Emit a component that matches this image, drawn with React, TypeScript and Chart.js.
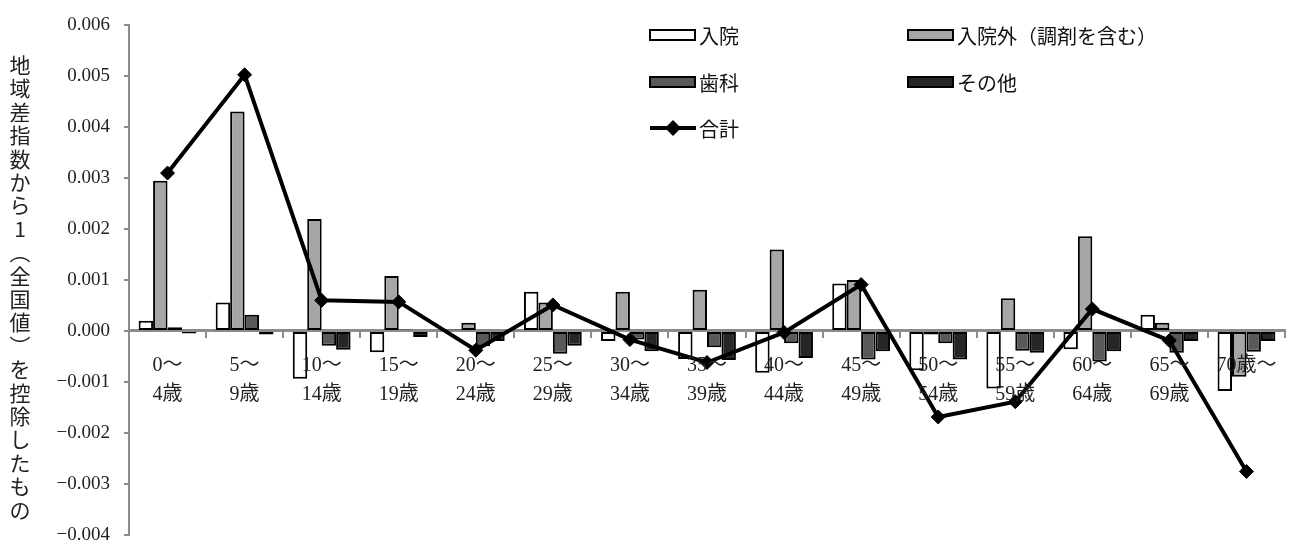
import React, { useEffect, useRef } from 'react';
import { Chart, registerables } from 'chart.js';

Chart.register(...registerables);

// ---- data ----
const ageGroups: (string | string[])[] = [
  ['0～', '4歳'], ['5～', '9歳'], ['10～', '14歳'], ['15～', '19歳'], ['20～', '24歳'],
  ['25～', '29歳'], ['30～', '34歳'], ['35～', '39歳'], ['40～', '44歳'], ['45～', '49歳'],
  ['50～', '54歳'], ['55～', '59歳'], ['60～', '64歳'], ['65～', '69歳'], '70歳～',
];

const inpatient = [0.0002, 0.00056, -0.00094, -0.00042, 0.00003, 0.00077, -0.0002, -0.00055, -0.00082, 0.00093, -0.00077, -0.00113, -0.00036, 0.00032, -0.00118];
const outpatient = [0.00295, 0.00431, 0.0022, 0.00108, 0.00016, 0.00056, 0.00077, 0.00081, 0.0016, 0.001, -0.00007, 0.00064, 0.00186, 0.00016, -0.0009];
const dental = [0.00007, 0.00032, -0.00029, 0.00003, -0.0003, -0.00045, -0.00017, -0.00032, -0.00024, -0.00056, -0.00024, -0.00039, -0.0006, -0.00043, -0.00041];
const other = [-0.00005, -0.00007, -0.00037, -0.00012, -0.0002, -0.00029, -0.0004, -0.00057, -0.00053, -0.0004, -0.00056, -0.00043, -0.0004, -0.0002, -0.0002];
const total = [0.0031, 0.00503, 0.0006, 0.00057, -0.00038, 0.00051, -0.00017, -0.00062, -0.00003, 0.00091, -0.00169, -0.00139, 0.00043, -0.00019, -0.00276];

const seriesNames = ['入院', '入院外（調剤を含む）', '歯科', 'その他', '合計'];
const seriesColors = ['#ffffff', '#a6a6a6', '#595959', '#262626', '#000000'];

const yMin = -0.004;
const yMax = 0.006;
const yStep = 0.001;

const axisTitle = '地域差指数から1︵全国値︶を控除したもの';

const serifFont = '"Liberation Serif", "Noto Sans CJK JP", serif';
const cjkFont = '"Noto Sans CJK JP", sans-serif';

const verticalTitlePlugin = {
  id: 'verticalTitle',
  afterDraw(chart: any) {
    const ctx = chart.ctx;
    ctx.save();
    ctx.fillStyle = '#222';
    ctx.font = `21px ${cjkFont}`;
    ctx.textAlign = 'center';
    ctx.textBaseline = 'middle';
    const chars = Array.from(axisTitle);
    chars.forEach((ch, i) => {
      ctx.fillText(ch, 20, 65 + 23.4 * i);
    });
    ctx.restore();
  },
};

const customLegendPlugin = {
  id: 'customLegend',
  afterDraw(chart: any) {
    const ctx = chart.ctx;
    const colX = [650, 908];
    const rowY = [35, 82, 128];
    ctx.save();
    chart.data.datasets.forEach((ds: any, i: number) => {
      const x = colX[i % 2];
      const y = rowY[Math.floor(i / 2)];
      if (ds.type === 'line') {
        ctx.strokeStyle = '#000';
        ctx.lineWidth = 4;
        ctx.beginPath();
        ctx.moveTo(x, y);
        ctx.lineTo(x + 46, y);
        ctx.stroke();
        ctx.fillStyle = '#000';
        ctx.beginPath();
        ctx.moveTo(x + 23, y - 8);
        ctx.lineTo(x + 31, y);
        ctx.lineTo(x + 23, y + 8);
        ctx.lineTo(x + 15, y);
        ctx.closePath();
        ctx.fill();
      } else {
        ctx.fillStyle = ds.backgroundColor;
        ctx.fillRect(x, y - 5, 45, 10);
        ctx.strokeStyle = '#000';
        ctx.lineWidth = 2;
        ctx.strokeRect(x, y - 5, 45, 10);
      }
      ctx.fillStyle = '#111';
      ctx.font = `20px ${cjkFont}`;
      ctx.textAlign = 'left';
      ctx.textBaseline = 'middle';
      ctx.fillText(ds.label, x + 49, y + 1);
    });
    ctx.restore();
  },
};

export default function App() {
  const canvasRef = useRef<HTMLCanvasElement>(null);

  useEffect(() => {
    const barSeries = [inpatient, outpatient, dental, other];
    const datasets: any[] = barSeries.map((values, i) => ({
      type: 'bar',
      label: seriesNames[i],
      data: values,
      backgroundColor: seriesColors[i],
      borderColor: '#000',
      borderWidth: 2,
      borderSkipped: false,
      barPercentage: 1,
      categoryPercentage: 0.75,
      order: 2,
    }));
    datasets.push({
      type: 'line',
      label: seriesNames[4],
      data: total,
      borderColor: seriesColors[4],
      backgroundColor: seriesColors[4],
      borderWidth: 4,
      pointStyle: 'rectRot',
      pointRadius: 7,
      pointBorderWidth: 1,
      pointBackgroundColor: '#000',
      pointBorderColor: '#000',
      tension: 0,
      order: 0,
    });

    const chart = new Chart(canvasRef.current!, {
      type: 'bar',
      data: { labels: ageGroups as any, datasets },
      options: {
        animation: false,
        responsive: true,
        maintainAspectRatio: false,
        layout: { padding: { left: 0, top: 14, right: 6, bottom: 13 } },
        plugins: {
          legend: { display: false },
          tooltip: { enabled: false },
        },
        scales: {
          x: {
            position: { y: 0 } as any,
            offset: true,
            grid: {
              offset: true,
              drawOnChartArea: false,
              drawTicks: true,
              tickLength: 6,
              color: '#8c8c8c',
              lineWidth: 2,
            },
            border: { display: true, color: '#8c8c8c', width: 3 },
            ticks: {
              z: 1,
              color: '#222',
              font: { family: serifFont, size: 20, lineHeight: 1.45 },
              padding: 14,
              maxRotation: 0,
              autoSkip: false,
            },
          },
          y: {
            min: yMin,
            max: yMax,
            afterFit(scale: any) {
              scale.width = 129;
            },
            grid: {
              drawOnChartArea: false,
              drawTicks: true,
              tickLength: 5,
              color: '#8c8c8c',
              lineWidth: 2,
            },
            border: { display: true, color: '#8c8c8c', width: 2 },
            ticks: {
              stepSize: yStep,
              color: '#222',
              padding: 14,
              font: { family: serifFont, size: 19 },
              callback: (v: any) => {
                const n = Number(v);
                const s = Math.abs(n).toFixed(3);
                return n < -1e-9 ? '−' + s : s;
              },
            },
          },
        },
      },
      plugins: [verticalTitlePlugin, customLegendPlugin],
    });
    return () => chart.destroy();
  }, []);

  return (
    <div style={{ position: 'absolute', left: 0, top: 0, width: 1293, height: 560, background: '#fff' }}>
      <canvas ref={canvasRef} />
    </div>
  );
}
